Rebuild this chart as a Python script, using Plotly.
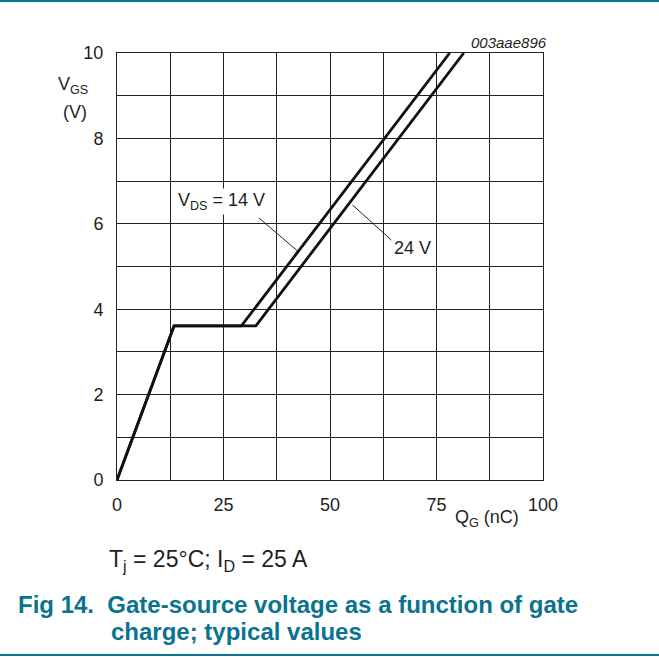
import plotly.graph_objects as go

# data
q_vds14 = [0, 13.4, 29.2, 78.1]
v_vds14 = [0, 3.61, 3.61, 10.0]
q_vds24 = [0, 13.4, 32.6, 81.4]
v_vds24 = [0, 3.61, 3.61, 10.0]
x_ticks = [0, 25, 50, 75, 100]
y_ticks = [0, 2, 4, 6, 8, 10]

W, H = 659, 657
L, R, T, B = 117, 543, 53, 480
pw, ph = R - L, B - T

def px(x):
    return (x - L) / pw

def py(y):
    return (B - y) / ph

TEAL = "#0a7390"
FONT = "Liberation Sans, Arial, sans-serif"
GRID = "#222222"

fig = go.Figure()
for q, v in [(q_vds14, v_vds14), (q_vds24, v_vds24)]:
    fig.add_trace(go.Scatter(x=q, y=v, mode="lines",
                             line=dict(color="#111111", width=2.8),
                             cliponaxis=False, showlegend=False, hoverinfo="skip"))

fig.update_layout(
    width=W, height=H, autosize=False,
    margin=dict(l=L, r=W - R, t=T, b=H - B, pad=0),
    plot_bgcolor="white", paper_bgcolor="white",
    font=dict(family=FONT, color="#231f20", size=18),
    xaxis=dict(range=[0, 100], tickvals=x_ticks, showgrid=True, gridcolor=GRID, gridwidth=1,
               minor=dict(dtick=12.5, showgrid=True, gridcolor=GRID, gridwidth=1),
               showline=True, linecolor=GRID, linewidth=1, mirror=True,
               zeroline=False, ticks="outside", ticklen=8, tickcolor="rgba(0,0,0,0)",
               tickfont=dict(size=18)),
    yaxis=dict(range=[0, 10], tickvals=y_ticks, showgrid=True, gridcolor=GRID, gridwidth=1,
               minor=dict(dtick=1, showgrid=True, gridcolor=GRID, gridwidth=1),
               showline=True, linecolor=GRID, linewidth=1, mirror=True,
               zeroline=False, ticks="outside", ticklen=9, tickcolor="rgba(0,0,0,0)",
               tickfont=dict(size=18)),
)

ann = []
# curve labels
ann.append(dict(x=24.6, y=6.53, xref="x", yref="y", text="V<sub>DS</sub> = 14 V", showarrow=False,
                font=dict(size=18), bgcolor="white", borderpad=1))
ann.append(dict(x=69.3, y=5.43, xref="x", yref="y", text="24 V", showarrow=False,
                font=dict(size=18)))
# leader lines
fig.add_shape(type="line", xref="x", yref="y", x0=33.3, y0=6.14, x1=42.4, y1=5.36,
              line=dict(color=GRID, width=1))
fig.add_shape(type="line", xref="x", yref="y", x0=55.3, y0=6.44, x1=64.4, y1=5.62,
              line=dict(color=GRID, width=1))

# texts outside plot
ann.append(dict(x=px(549), y=py(42.5), xref="paper", yref="paper", xanchor="right", yanchor="middle",
                text="<i>003aae896</i>", showarrow=False, font=dict(size=15)))
ann.append(dict(x=px(73), y=py(86), xref="paper", yref="paper", xanchor="center", yanchor="middle",
                text="V<sub>GS</sub>", showarrow=False, font=dict(size=18)))
ann.append(dict(x=px(75), y=py(112), xref="paper", yref="paper", xanchor="center", yanchor="middle",
                text="(V)", showarrow=False, font=dict(size=18)))
ann.append(dict(x=px(453), y=py(518), xref="paper", yref="paper", xanchor="left", yanchor="middle",
                text="Q<sub>G</sub> (nC)", showarrow=False, font=dict(size=18)))
ann.append(dict(x=px(107), y=py(560), xref="paper", yref="paper", xanchor="left", yanchor="middle",
                text="T<sub>j</sub> = 25°C; I<sub>D</sub> = 25 A", showarrow=False, font=dict(size=23)))
ann.append(dict(x=px(16), y=py(604), xref="paper", yref="paper", xanchor="left", yanchor="middle",
                text="<b>Fig 14.  Gate-source voltage as a function of gate</b>", showarrow=False,
                font=dict(size=24, color=TEAL)))
ann.append(dict(x=px(109), y=py(631), xref="paper", yref="paper", xanchor="left", yanchor="middle",
                text="<b>charge; typical values</b>", showarrow=False,
                font=dict(size=24, color=TEAL)))
fig.update_layout(annotations=ann)

# teal rules at top and bottom
fig.add_shape(type="line", xref="paper", yref="paper", x0=px(0), x1=px(W), y0=py(1), y1=py(1),
              line=dict(color=TEAL, width=2))
fig.add_shape(type="line", xref="paper", yref="paper", x0=px(0), x1=px(W), y0=py(655), y1=py(655),
              line=dict(color=TEAL, width=2))

fig.write_html(
    "out.html",
    config={"displayModeBar": False},
    post_script="document.body.style.margin='0';document.documentElement.style.overflow='hidden';",
)
